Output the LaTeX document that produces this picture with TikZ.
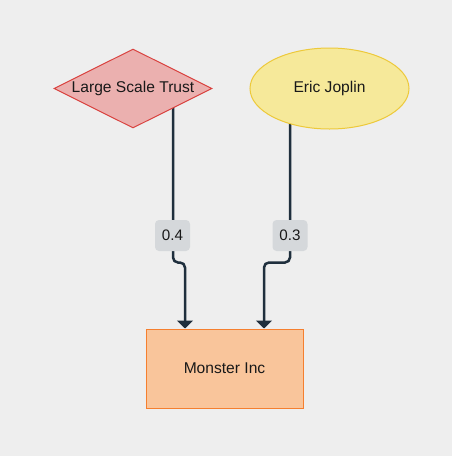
\documentclass[tikz,border=0pt]{standalone}
\usepackage{fontspec}
\setmainfont{Liberation Sans}
\usetikzlibrary{shapes.geometric,arrows.meta,calc,backgrounds}
\definecolor{bg}{HTML}{EEEEEE}
\definecolor{dfill}{HTML}{EBB0AF}
\definecolor{dline}{HTML}{D9423F}
\definecolor{efill}{HTML}{F6E99A}
\definecolor{eline}{HTML}{EDC93A}
\definecolor{rfill}{HTML}{F9C59B}
\definecolor{rline}{HTML}{F57F2F}
\definecolor{conn}{HTML}{1F2F3D}
\definecolor{lfill}{HTML}{D5D8DB}
\tikzset{
  base/.style={inner sep=0pt, font=\fontsize{15.6}{18}\selectfont, text=black!90, line width=1pt},
  diam/.style={base, diamond, aspect=2, draw=dline, fill=dfill, minimum width=158pt, minimum height=79pt},
  ell/.style={base, ellipse, draw=eline, fill=efill, minimum width=159pt, minimum height=81pt},
  box/.style={base, rectangle, draw=rline, fill=rfill, minimum width=157pt, minimum height=79pt},
  lab/.style={inner sep=0pt, rounded corners=4pt, fill=lfill, minimum width=35pt, minimum height=31pt, font=\fontsize{15.2}{18}\selectfont, text=black!90},
  conn/.style={draw=conn, line width=2.5pt, rounded corners=5pt, -{Triangle[width=16pt,length=8pt]}}
}
\begin{document}
\begin{tikzpicture}[x=1pt,y=-1pt]
\useasboundingbox (0,0) rectangle (452,456);
\node[diam] (lst) at (133,88.5) {Large Scale Trust};
\node[ell] (ej) at (329.5,88.5) {Eric Joplin};
\node[box] (mi) at (224.5,368.5) {Monster Inc};
\begin{scope}[on background layer]
\fill[bg] (0,0) rectangle (452,456);
\draw[conn] ($(lst.center)+(40,0)$) |- ($(mi.north)+(-39.5,-66)$) -- ($(mi.north)+(-39.5,0)$);
\draw[conn] ($(ej.center)+(-39.5,0)$) |- ($(mi.north)+(39.5,-66)$) -- ($(mi.north)+(39.5,0)$);
\end{scope}
\node[lab] (l1) at (172.5,235.5) {0.4};
\node[lab] (l2) at (290,235.5) {0.3};
\end{tikzpicture}
\end{document}
